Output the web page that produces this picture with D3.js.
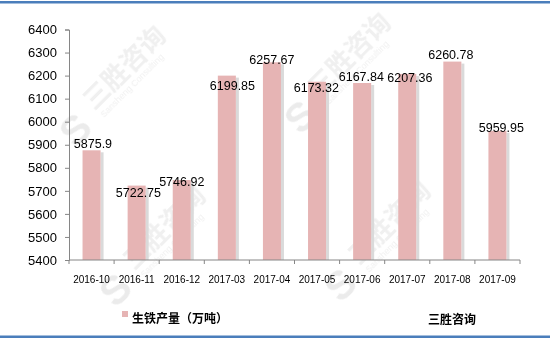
<!DOCTYPE html>
<html><head><meta charset="utf-8">
<script src="https://cdn.jsdelivr.net/npm/d3@7/dist/d3.min.js"></script>
<style>body{margin:0;background:#fff}svg{display:block}</style>
</head><body>
<svg id="c" width="550" height="342"></svg>
<script>
const categories = ["2016-10","2016-11","2016-12","2017-03","2017-04","2017-05","2017-06","2017-07","2017-08","2017-09"];
const values = [5875.9,5722.75,5746.92,6199.85,6257.67,6173.32,6167.84,6207.36,6260.78,5959.95];
const valueLabels = ["5875.9","5722.75","5746.92","6199.85","6257.67","6173.32","6167.84","6207.36","6260.78","5959.95"];
const yTicks = [5400,5500,5600,5700,5800,5900,6000,6100,6200,6300,6400];
const seriesName = "生铁产量（万吨）";
const brand = "三胜咨询";

// label nudges (layout only), in px relative to bar top / bar centre
const labelDy = [-6,7.4,1.7,10,-2,6,-6.3,4.4,-6.6,-2.6];
const labelDx = [1.4,1.8,0,5.6,0,-0.7,-0.8,2.6,-1.5,3.9];

const svg = d3.select("#c");
const x = d3.scaleBand().domain(categories).range([69,520]).paddingInner(0.6).paddingOuter(0.3);
const y = d3.scaleLinear().domain([5400,6400]).range([260,29.5]);

// watermarks
const wm = svg.append("g").attr("opacity",0.13);
function watermark(cx, cy){
  const g = wm.append("g").attr("transform",`translate(${cx},${cy}) rotate(-45)`);
  g.append("text").attr("x",20).attr("y",0).attr("font-family","Noto Sans CJK SC").attr("font-size",26).attr("font-weight","bold").attr("fill","#888").text(brand);
  g.append("text").attr("x",22).attr("y",12).attr("font-family","Liberation Sans").attr("font-size",9).attr("fill","#888").text("Sansheng Consulting");
  g.append("text").attr("x",-20).attr("y",14).attr("font-family","Liberation Sans").attr("font-size",40).attr("font-weight","bold").attr("fill","#666").text("S");
}
watermark(80,125);
watermark(305,112);
watermark(120,285);
watermark(345,280);

// top & bottom blue rules
svg.append("rect").attr("x",0).attr("y",1).attr("width",550).attr("height",2.5).attr("fill","#4a7ebb");
svg.append("rect").attr("x",0).attr("y",335.5).attr("width",550).attr("height",2.5).attr("fill","#4a7ebb");

// bars with shadow
const bars = svg.append("g");
bars.selectAll("rect.sh").data(values).join("rect")
  .attr("x",(d,i)=>x(categories[i])+x.bandwidth())
  .attr("y",d=>y(d)+2)
  .attr("width",3)
  .attr("height",d=>y(5400)-y(d)-2)
  .attr("fill","#dadada");
bars.selectAll("rect.b").data(values).join("rect")
  .attr("x",(d,i)=>x(categories[i]))
  .attr("y",d=>y(d))
  .attr("width",x.bandwidth())
  .attr("height",d=>y(5400)-y(d))
  .attr("fill","#e6b4b4");

// axes
const yAxis = d3.axisLeft(y).tickValues(yTicks).tickSize(4).tickPadding(8).tickFormat(d3.format("d"));
const gy = svg.append("g").attr("transform","translate(69,0)").call(yAxis);
gy.select(".domain").attr("stroke","#868686");
gy.selectAll(".tick line").attr("stroke","#868686");
gy.selectAll(".tick text").attr("font-family","Liberation Sans").attr("font-size",13).attr("fill","#000");

const gx = svg.append("g").attr("transform","translate(0,260)");
gx.append("line").attr("x1",69).attr("x2",520).attr("y1",0).attr("y2",0).attr("stroke","#868686");
const bounds = categories.map(c=>x(c)-x.step()*x.paddingInner()/2).concat([x(categories[categories.length-1])+x.bandwidth()+x.step()*x.paddingInner()/2]);
gx.selectAll("line.t").data(bounds).join("line").attr("x1",d=>d).attr("x2",d=>d).attr("y1",0).attr("y2",4).attr("stroke","#868686");
gx.selectAll("text").data(categories).join("text")
  .attr("x",d=>x(d)+x.bandwidth()/2).attr("y",19.5)
  .attr("text-anchor","middle").attr("dominant-baseline","central")
  .attr("font-family","Liberation Sans").attr("font-size",10).attr("fill","#000").text(d=>d);

// value labels
svg.append("g").selectAll("text").data(values).join("text")
  .attr("x",(d,i)=>x(categories[i])+x.bandwidth()/2+labelDx[i])
  .attr("y",(d,i)=>y(d)+labelDy[i])
  .attr("text-anchor","middle").attr("dominant-baseline","central")
  .attr("font-family","Liberation Sans").attr("font-size",12.5).attr("fill","#000")
  .text((d,i)=>valueLabels[i]);

// legend
svg.append("rect").attr("x",122).attr("y",311).attr("width",6).attr("height",6).attr("fill","#e6b4b4");
svg.append("text").attr("x",132).attr("y",317.5).attr("dominant-baseline","central")
  .attr("font-family","Noto Sans CJK SC").attr("font-size",12).attr("font-weight","bold").attr("fill","#000").text(seriesName);
svg.append("text").attr("x",428).attr("y",318).attr("dominant-baseline","central")
  .attr("font-family","Noto Sans CJK SC").attr("font-size",12).attr("font-weight","bold").attr("fill","#000").text(brand);
</script>
</body></html>
